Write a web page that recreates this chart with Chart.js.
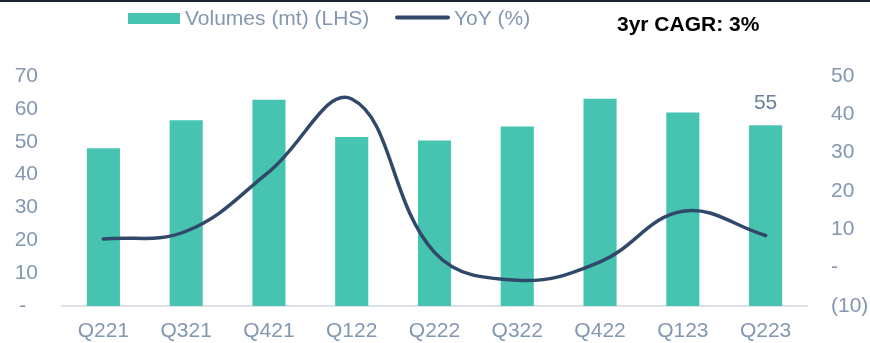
<!DOCTYPE html>
<html>
<head>
<meta charset="utf-8">
<script src="https://cdn.jsdelivr.net/npm/chart.js@4/dist/chart.umd.min.js"></script>
<style>
    html, body { margin: 0; padding: 0; background: #ffffff; }
    #volChart { display: block; }
</style>
</head>
<body>
<canvas id="volChart" width="870" height="343"></canvas>
<script>
const quarters = ['Q221', 'Q321', 'Q421', 'Q122', 'Q222', 'Q322', 'Q422', 'Q123', 'Q223'];
const volumes  = [48, 56.5, 62.8, 51.4, 50.4, 54.6, 63.1, 58.9, 55];
const yoy      = [7.5, 9.5, 25, 44, 4, -3.3, 1.5, 14.7, 8.4];
const seriesNames = ['Volumes (mt) (LHS)', 'YoY (%)'];
const cagrText = '3yr CAGR: 3%';

const TEAL = '#47c3b1';
const NAVY = '#30496a';
const GREY_TXT = '#8497b0';
const FONT = '"Liberation Sans", Arial, sans-serif';

// legend row, CAGR note, top rule and the value label on the last bar
const extras = {
    id: 'extras',
    afterDraw(chart) {
        const c = chart.ctx;
        c.save();

        c.fillStyle = '#1c2230';
        c.fillRect(0, 0, chart.width, 2);

        c.font = '21px ' + FONT;
        c.textBaseline = 'alphabetic';
        c.textAlign = 'left';

        c.fillStyle = TEAL;
        c.fillRect(128, 13, 52, 11);
        c.fillStyle = GREY_TXT;
        c.fillText(chart.data.datasets[0].label, 185, 25);

        c.strokeStyle = NAVY;
        c.lineWidth = 4;
        c.lineCap = 'round';
        c.beginPath();
        c.moveTo(397, 17.5);
        c.lineTo(448, 17.5);
        c.stroke();
        c.fillText(chart.data.datasets[1].label, 454, 25);

        c.font = 'bold 21px ' + FONT;
        c.fillStyle = '#000000';
        c.fillText(cagrText, 617, 30.5);

        // value on the latest quarter
        const meta = chart.getDatasetMeta(0);
        const last = meta.data[meta.data.length - 1];
        c.font = '21px ' + FONT;
        c.fillStyle = '#6b7e99';
        c.textAlign = 'center';
        c.textBaseline = 'middle';
        c.fillText(String(volumes[volumes.length - 1]), last.x, last.y - 22);

        c.restore();
    }
};

const ctx = document.getElementById('volChart').getContext('2d');
const volChart = new Chart(ctx, {
    data: {
        labels: quarters,
        datasets: [
            {
                type: 'line',
                label: seriesNames[1],
                data: yoy,
                yAxisID: 'yRight',
                borderColor: NAVY,
                borderWidth: 3.5,
                borderCapStyle: 'round',
                pointRadius: 0,
                tension: 0.4,
                fill: false,
                order: 0
            },
            {
                type: 'bar',
                label: seriesNames[0],
                data: volumes,
                yAxisID: 'yLeft',
                backgroundColor: TEAL,
                barPercentage: 0.4,
                categoryPercentage: 1,
                order: 1
            }
        ].reverse()
    },
    options: {
        responsive: false,
        animation: false,
        devicePixelRatio: 1,
        layout: { padding: { top: 76, left: 0, right: 0, bottom: 0 } },
        plugins: {
            legend: { display: false },
            tooltip: { enabled: false }
        },
        scales: {
            x: {
                grid: { display: false, drawTicks: false },
                border: { display: true, color: '#dde2e9', width: 2 },
                ticks: { color: GREY_TXT, font: { family: FONT, size: 21 }, padding: 13, maxRotation: 0 },
                afterFit(scale) { scale.height = 37; }
            },
            yLeft: {
                position: 'left',
                min: 0,
                max: 70,
                grid: { display: false, drawTicks: false },
                border: { display: false },
                ticks: {
                    stepSize: 10,
                    color: GREY_TXT,
                    font: { family: FONT, size: 21 },
                    padding: 24,
                    callback: v => v === 0 ? '-  ' : v
                },
                afterFit(scale) { scale.width = 62; }
            },
            yRight: {
                position: 'right',
                min: -10,
                max: 50,
                grid: { display: false, drawTicks: false },
                border: { display: false },
                ticks: {
                    stepSize: 10,
                    color: GREY_TXT,
                    font: { family: FONT, size: 21 },
                    padding: 24,
                    callback: v => v === 0 ? '-' : (v < 0 ? '(' + (-v) + ')' : v)
                },
                afterFit(scale) { scale.width = 63; }
            }
        }
    },
    plugins: [extras]
});
</script>
</body>
</html>
